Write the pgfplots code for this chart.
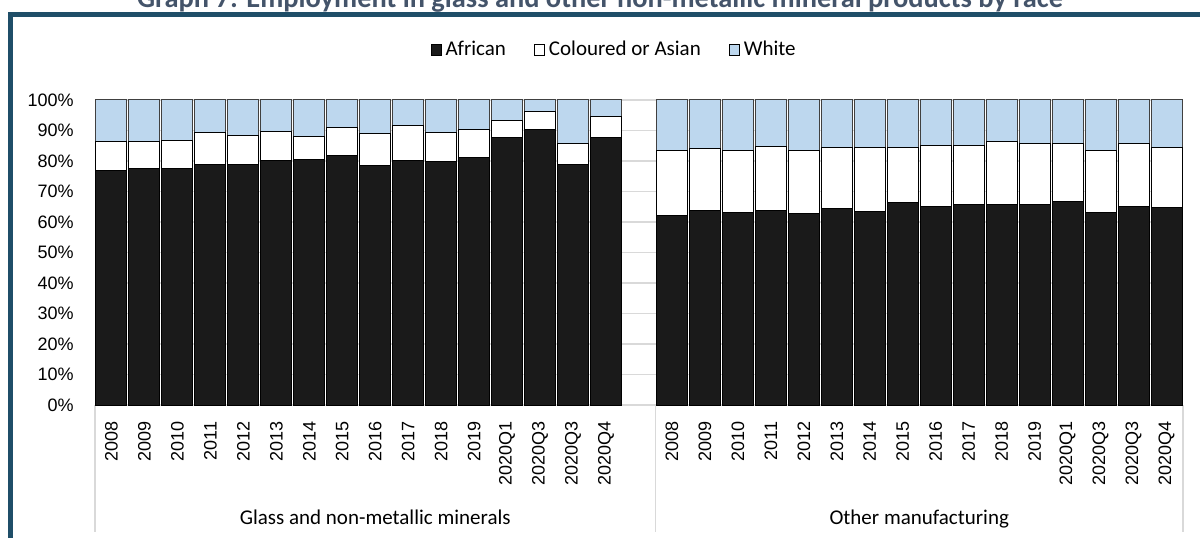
\documentclass[border=0pt]{standalone}
\usepackage{fontspec}
\setmainfont{Carlito}
\newfontfamily\arialfont{Liberation Sans}
\usepackage{pgfplots}
\usepackage{pgfplotstable}
\pgfplotsset{compat=1.18}

\definecolor{african}{RGB}{26,26,26}
\definecolor{whiteblue}{RGB}{189,215,238}
\definecolor{framecol}{RGB}{31,78,104}
\definecolor{titlecol}{RGB}{68,84,106}
\definecolor{gridgray}{RGB}{217,217,217}

% x: 0-15 glass group, 17-32 other manufacturing (16 left empty)
\pgfplotstableread{
x  african coloured white
0  76.8  9.5  13.7
1  77.7  8.6  13.7
2  77.4  9.2  13.4
3  78.7  10.8 10.5
4  79.0  9.5  11.5
5  80.1  9.6  10.3
6  80.5  7.6  11.9
7  81.9  9.0  9.1
8  78.5  10.4 11.1
9  80.0  11.6 8.4
10 79.8  9.6  10.6
11 81.2  9.1  9.7
12 87.8  5.4  6.8
13 90.2  5.9  3.9
14 78.7  6.9  14.4
15 87.8  6.7  5.5
17 62.2  21.3 16.5
18 63.8  20.2 16.0
19 63.0  20.6 16.4
20 63.9  20.7 15.4
21 62.7  20.6 16.7
22 64.4  19.9 15.7
23 63.5  20.8 15.7
24 66.3  18.0 15.7
25 65.1  20.1 14.8
26 65.7  19.4 14.9
27 65.6  20.8 13.6
28 65.6  20.0 14.4
29 66.6  19.0 14.4
30 63.0  20.5 16.5
31 65.1  20.8 14.1
32 64.7  19.8 15.5
}\racedata

\begin{document}
\begin{tikzpicture}
\useasboundingbox (0,0) rectangle (600bp,269bp);
\draw[framecol, line width=2.2bp, line join=miter] (5.25bp,-5bp) -- (5.25bp,261.65bp) -- (610bp,261.65bp);
\node[titlecol, font=\fontsize{14.2bp}{16bp}\selectfont\bfseries, anchor=base] at (300bp,265.2bp)
  {Graph 7: Employment in glass and other non-metallic mineral products by race};

\begin{axis}[
  at={(47.5bp,66.5bp)}, anchor=south west,
  scale only axis, width=544bp, height=152.5bp,
  ybar stacked, bar width=0.94,
  xmin=-0.5, xmax=32.5, ymin=0, ymax=100,
  enlargelimits=false, clip=false,
  axis line style={draw=none},
  major tick length=0pt,
  ymajorgrids, grid style={gridgray, line width=0.6bp},
  ytick={0,10,20,30,40,50,60,70,80,90,100},
  yticklabels={0\%,10\%,20\%,30\%,40\%,50\%,60\%,70\%,80\%,90\%,100\%},
  yticklabel style={anchor=east, inner sep=0pt, xshift=-10.5bp, font=\arialfont\fontsize{9bp}{10bp}\selectfont},
  xtick={0,1,2,3,4,5,6,7,8,9,10,11,12,13,14,15,17,18,19,20,21,22,23,24,25,26,27,28,29,30,31,32},
  xticklabels={2008,2009,2010,2011,2012,2013,2014,2015,2016,2017,2018,2019,2020Q1,2020Q3,2020Q3,2020Q4,
               2008,2009,2010,2011,2012,2013,2014,2015,2016,2017,2018,2019,2020Q1,2020Q3,2020Q3,2020Q4},
  xticklabel style={yshift=-8bp, rotate=90, anchor=east, inner sep=0pt, font=\arialfont\fontsize{9bp}{10bp}\selectfont},
  legend style={at={(0.478,1.164)}, anchor=center, draw=none, fill=none, legend columns=-1,
    font=\fontsize{10.5bp}{12bp}\selectfont, /tikz/every even column/.append style={column sep=12bp}},
  legsq/.style={legend image code/.code={\draw[##1, draw=black, line width=0.5bp] (0bp,-2.8bp) rectangle (5bp,2.8bp);}},
]
\addplot[fill=african, draw=black, line width=0.5bp, legsq] table[x=x, y=african] {\racedata};
\addplot[fill=white, draw=black, line width=0.5bp, legsq] table[x=x, y=coloured] {\racedata};
\addplot[fill=whiteblue, draw=black!75, line width=0.5bp, legsq] table[x=x, y=white] {\racedata};
\legend{African, Coloured or Asian, White}

% category group dividers below the axis
\draw[gridgray, line width=0.75bp] (axis cs:-0.5,0) -- ([yshift=-63.5bp]axis cs:-0.5,0);
\draw[gridgray, line width=0.75bp] (axis cs:16.5,0) -- ([yshift=-63.5bp]axis cs:16.5,0);
\draw[gridgray, line width=0.75bp] (axis cs:32.5,0) -- ([yshift=-63.5bp]axis cs:32.5,0);
\node[anchor=base, yshift=-59.5bp, font=\fontsize{10.5bp}{12bp}\selectfont] at (axis cs:8,0) {Glass and non-metallic minerals};
\node[anchor=base, yshift=-59.5bp, font=\fontsize{10.5bp}{12bp}\selectfont] at (axis cs:24.5,0) {Other manufacturing};
\end{axis}
\end{tikzpicture}
\end{document}
